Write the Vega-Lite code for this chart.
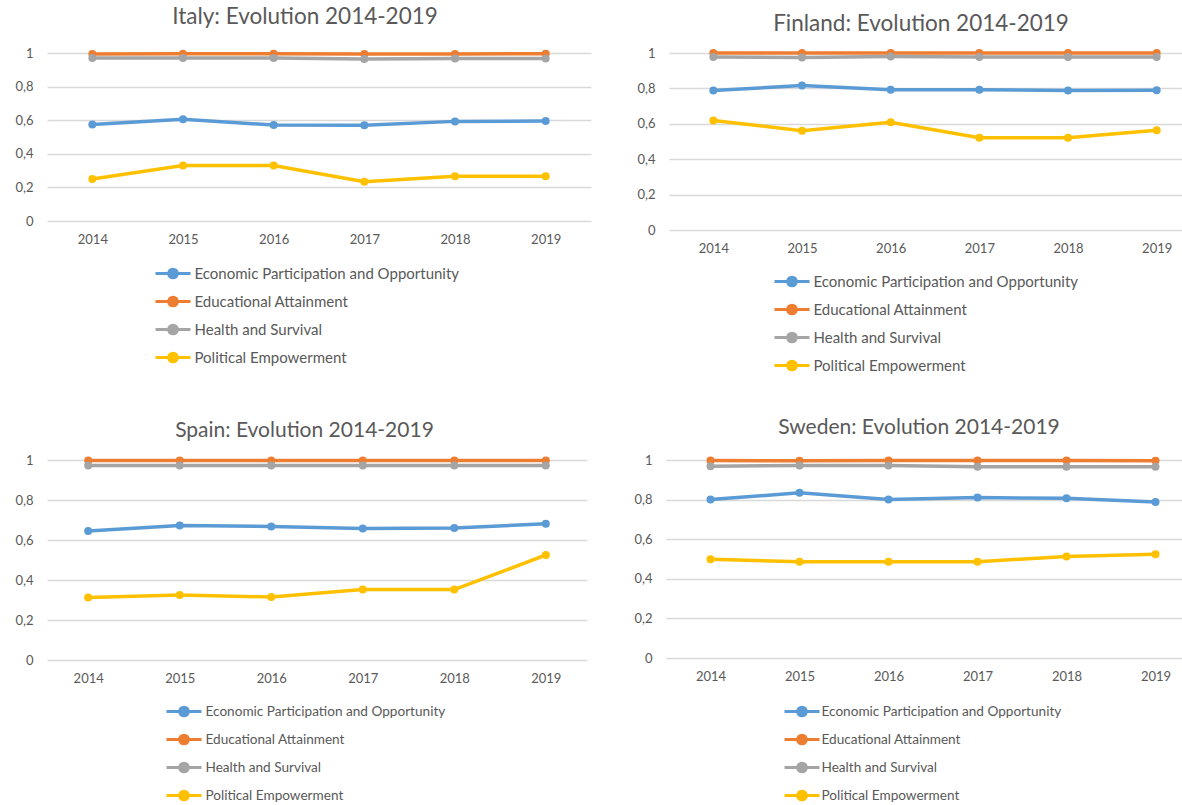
{
  "$schema": "https://vega.github.io/schema/vega-lite/v6.json",
  "padding": {"left": 14, "top": 6, "right": 0, "bottom": 0},
  "background": "white",
  "datasets": {
    "d": [
      {"country": "Italy", "indicator": "Economic Participation and Opportunity", "year": "2014", "value": 0.574},
      {"country": "Italy", "indicator": "Economic Participation and Opportunity", "year": "2015", "value": 0.605},
      {"country": "Italy", "indicator": "Economic Participation and Opportunity", "year": "2016", "value": 0.571},
      {"country": "Italy", "indicator": "Economic Participation and Opportunity", "year": "2017", "value": 0.570},
      {"country": "Italy", "indicator": "Economic Participation and Opportunity", "year": "2018", "value": 0.593},
      {"country": "Italy", "indicator": "Economic Participation and Opportunity", "year": "2019", "value": 0.595},
      {"country": "Italy", "indicator": "Educational Attainment", "year": "2014", "value": 0.994},
      {"country": "Italy", "indicator": "Educational Attainment", "year": "2015", "value": 0.995},
      {"country": "Italy", "indicator": "Educational Attainment", "year": "2016", "value": 0.995},
      {"country": "Italy", "indicator": "Educational Attainment", "year": "2017", "value": 0.994},
      {"country": "Italy", "indicator": "Educational Attainment", "year": "2018", "value": 0.994},
      {"country": "Italy", "indicator": "Educational Attainment", "year": "2019", "value": 0.996},
      {"country": "Italy", "indicator": "Health and Survival", "year": "2014", "value": 0.970},
      {"country": "Italy", "indicator": "Health and Survival", "year": "2015", "value": 0.970},
      {"country": "Italy", "indicator": "Health and Survival", "year": "2016", "value": 0.970},
      {"country": "Italy", "indicator": "Health and Survival", "year": "2017", "value": 0.964},
      {"country": "Italy", "indicator": "Health and Survival", "year": "2018", "value": 0.967},
      {"country": "Italy", "indicator": "Health and Survival", "year": "2019", "value": 0.967},
      {"country": "Italy", "indicator": "Political Empowerment", "year": "2014", "value": 0.250},
      {"country": "Italy", "indicator": "Political Empowerment", "year": "2015", "value": 0.330},
      {"country": "Italy", "indicator": "Political Empowerment", "year": "2016", "value": 0.330},
      {"country": "Italy", "indicator": "Political Empowerment", "year": "2017", "value": 0.234},
      {"country": "Italy", "indicator": "Political Empowerment", "year": "2018", "value": 0.267},
      {"country": "Italy", "indicator": "Political Empowerment", "year": "2019", "value": 0.267},

      {"country": "Finland", "indicator": "Economic Participation and Opportunity", "year": "2014", "value": 0.788},
      {"country": "Finland", "indicator": "Economic Participation and Opportunity", "year": "2015", "value": 0.816},
      {"country": "Finland", "indicator": "Economic Participation and Opportunity", "year": "2016", "value": 0.793},
      {"country": "Finland", "indicator": "Economic Participation and Opportunity", "year": "2017", "value": 0.793},
      {"country": "Finland", "indicator": "Economic Participation and Opportunity", "year": "2018", "value": 0.788},
      {"country": "Finland", "indicator": "Economic Participation and Opportunity", "year": "2019", "value": 0.790},
      {"country": "Finland", "indicator": "Educational Attainment", "year": "2014", "value": 1.000},
      {"country": "Finland", "indicator": "Educational Attainment", "year": "2015", "value": 1.000},
      {"country": "Finland", "indicator": "Educational Attainment", "year": "2016", "value": 1.000},
      {"country": "Finland", "indicator": "Educational Attainment", "year": "2017", "value": 1.000},
      {"country": "Finland", "indicator": "Educational Attainment", "year": "2018", "value": 1.000},
      {"country": "Finland", "indicator": "Educational Attainment", "year": "2019", "value": 1.000},
      {"country": "Finland", "indicator": "Health and Survival", "year": "2014", "value": 0.978},
      {"country": "Finland", "indicator": "Health and Survival", "year": "2015", "value": 0.974},
      {"country": "Finland", "indicator": "Health and Survival", "year": "2016", "value": 0.980},
      {"country": "Finland", "indicator": "Health and Survival", "year": "2017", "value": 0.978},
      {"country": "Finland", "indicator": "Health and Survival", "year": "2018", "value": 0.978},
      {"country": "Finland", "indicator": "Health and Survival", "year": "2019", "value": 0.978},
      {"country": "Finland", "indicator": "Political Empowerment", "year": "2014", "value": 0.619},
      {"country": "Finland", "indicator": "Political Empowerment", "year": "2015", "value": 0.561},
      {"country": "Finland", "indicator": "Political Empowerment", "year": "2016", "value": 0.609},
      {"country": "Finland", "indicator": "Political Empowerment", "year": "2017", "value": 0.521},
      {"country": "Finland", "indicator": "Political Empowerment", "year": "2018", "value": 0.521},
      {"country": "Finland", "indicator": "Political Empowerment", "year": "2019", "value": 0.564},

      {"country": "Spain", "indicator": "Economic Participation and Opportunity", "year": "2014", "value": 0.645},
      {"country": "Spain", "indicator": "Economic Participation and Opportunity", "year": "2015", "value": 0.673},
      {"country": "Spain", "indicator": "Economic Participation and Opportunity", "year": "2016", "value": 0.668},
      {"country": "Spain", "indicator": "Economic Participation and Opportunity", "year": "2017", "value": 0.657},
      {"country": "Spain", "indicator": "Economic Participation and Opportunity", "year": "2018", "value": 0.660},
      {"country": "Spain", "indicator": "Economic Participation and Opportunity", "year": "2019", "value": 0.681},
      {"country": "Spain", "indicator": "Educational Attainment", "year": "2014", "value": 0.998},
      {"country": "Spain", "indicator": "Educational Attainment", "year": "2015", "value": 0.998},
      {"country": "Spain", "indicator": "Educational Attainment", "year": "2016", "value": 0.998},
      {"country": "Spain", "indicator": "Educational Attainment", "year": "2017", "value": 0.998},
      {"country": "Spain", "indicator": "Educational Attainment", "year": "2018", "value": 0.998},
      {"country": "Spain", "indicator": "Educational Attainment", "year": "2019", "value": 0.998},
      {"country": "Spain", "indicator": "Health and Survival", "year": "2014", "value": 0.972},
      {"country": "Spain", "indicator": "Health and Survival", "year": "2015", "value": 0.972},
      {"country": "Spain", "indicator": "Health and Survival", "year": "2016", "value": 0.972},
      {"country": "Spain", "indicator": "Health and Survival", "year": "2017", "value": 0.972},
      {"country": "Spain", "indicator": "Health and Survival", "year": "2018", "value": 0.972},
      {"country": "Spain", "indicator": "Health and Survival", "year": "2019", "value": 0.972},
      {"country": "Spain", "indicator": "Political Empowerment", "year": "2014", "value": 0.313},
      {"country": "Spain", "indicator": "Political Empowerment", "year": "2015", "value": 0.325},
      {"country": "Spain", "indicator": "Political Empowerment", "year": "2016", "value": 0.315},
      {"country": "Spain", "indicator": "Political Empowerment", "year": "2017", "value": 0.352},
      {"country": "Spain", "indicator": "Political Empowerment", "year": "2018", "value": 0.352},
      {"country": "Spain", "indicator": "Political Empowerment", "year": "2019", "value": 0.525},

      {"country": "Sweden", "indicator": "Economic Participation and Opportunity", "year": "2014", "value": 0.800},
      {"country": "Sweden", "indicator": "Economic Participation and Opportunity", "year": "2015", "value": 0.834},
      {"country": "Sweden", "indicator": "Economic Participation and Opportunity", "year": "2016", "value": 0.800},
      {"country": "Sweden", "indicator": "Economic Participation and Opportunity", "year": "2017", "value": 0.810},
      {"country": "Sweden", "indicator": "Economic Participation and Opportunity", "year": "2018", "value": 0.807},
      {"country": "Sweden", "indicator": "Economic Participation and Opportunity", "year": "2019", "value": 0.788},
      {"country": "Sweden", "indicator": "Educational Attainment", "year": "2014", "value": 0.998},
      {"country": "Sweden", "indicator": "Educational Attainment", "year": "2015", "value": 0.996},
      {"country": "Sweden", "indicator": "Educational Attainment", "year": "2016", "value": 0.998},
      {"country": "Sweden", "indicator": "Educational Attainment", "year": "2017", "value": 0.997},
      {"country": "Sweden", "indicator": "Educational Attainment", "year": "2018", "value": 0.997},
      {"country": "Sweden", "indicator": "Educational Attainment", "year": "2019", "value": 0.996},
      {"country": "Sweden", "indicator": "Health and Survival", "year": "2014", "value": 0.969},
      {"country": "Sweden", "indicator": "Health and Survival", "year": "2015", "value": 0.972},
      {"country": "Sweden", "indicator": "Health and Survival", "year": "2016", "value": 0.972},
      {"country": "Sweden", "indicator": "Health and Survival", "year": "2017", "value": 0.966},
      {"country": "Sweden", "indicator": "Health and Survival", "year": "2018", "value": 0.966},
      {"country": "Sweden", "indicator": "Health and Survival", "year": "2019", "value": 0.966},
      {"country": "Sweden", "indicator": "Political Empowerment", "year": "2014", "value": 0.499},
      {"country": "Sweden", "indicator": "Political Empowerment", "year": "2015", "value": 0.486},
      {"country": "Sweden", "indicator": "Political Empowerment", "year": "2016", "value": 0.486},
      {"country": "Sweden", "indicator": "Political Empowerment", "year": "2017", "value": 0.486},
      {"country": "Sweden", "indicator": "Political Empowerment", "year": "2018", "value": 0.513},
      {"country": "Sweden", "indicator": "Political Empowerment", "year": "2019", "value": 0.524}
    ]
  },
  "data": {"name": "d"},
  "resolve": {"legend": {"color": "independent"}},
  "spacing": 41,
  "vconcat": [
    {
      "spacing": 45,
      "resolve": {"legend": {"color": "independent"}},
      "hconcat": [
        {
          "title": {"text": "Italy: Evolution 2014-2019", "dx": -14, "dy": 3, "offset": 21},
          "width": 544, "height": 168,
          "transform": [{"filter": "datum.country === 'Italy'"}],
          "encoding": {
            "x": {"field": "year", "type": "ordinal", "scale": {"type": "point", "padding": 0.5}},
            "y": {"field": "value", "type": "quantitative", "scale": {"domain": [0, 1]}},
            "color": {"field": "indicator", "type": "nominal", "legend": {"legendX": 110.5, "legendY": 205, "labelFontSize": 15}}
          },
          "layer": [
            {"mark": {"type": "line", "strokeWidth": 3.5}},
            {"mark": {"type": "point", "filled": true, "size": 64, "opacity": 1}}
          ]
        },
        {
          "title": {"text": "Finland: Evolution 2014-2019", "dx": -14, "offset": 11},
          "width": 532, "height": 177,
          "transform": [{"filter": "datum.country === 'Finland'"}],
          "encoding": {
            "x": {"field": "year", "type": "ordinal", "scale": {"type": "point", "padding": 0.5}},
            "y": {"field": "value", "type": "quantitative", "scale": {"domain": [0, 1]}},
            "color": {"field": "indicator", "type": "nominal", "legend": {"legendX": 107.5, "legendY": 213, "labelFontSize": 15}}
          },
          "layer": [
            {"mark": {"type": "line", "strokeWidth": 3.5}},
            {"mark": {"type": "point", "filled": true, "size": 64, "opacity": 1}}
          ]
        }
      ]
    },
    {
      "spacing": 46,
      "resolve": {"legend": {"color": "independent"}},
      "hconcat": [
        {
          "title": {"text": "Spain: Evolution 2014-2019", "dx": -12.5, "dy": 2, "offset": 14, "fontSize": 21},
          "width": 540, "height": 200,
          "transform": [{"filter": "datum.country === 'Spain'"}],
          "encoding": {
            "x": {"field": "year", "type": "ordinal", "scale": {"type": "point", "padding": 0.45}},
            "y": {"field": "value", "type": "quantitative", "scale": {"domain": [0, 1]}},
            "color": {"field": "indicator", "type": "nominal", "legend": {"legendX": 121.5, "legendY": 236, "labelFontSize": 13.6}}
          },
          "layer": [
            {"mark": {"type": "line", "strokeWidth": 3.5}},
            {"mark": {"type": "point", "filled": true, "size": 64, "opacity": 1}}
          ]
        },
        {
          "title": {"text": "Sweden: Evolution 2014-2019", "dx": -14, "dy": 2, "offset": 17, "fontSize": 21},
          "width": 534, "height": 198,
          "transform": [{"filter": "datum.country === 'Sweden'"}],
          "encoding": {
            "x": {"field": "year", "type": "ordinal", "scale": {"type": "point", "padding": 0.5}},
            "y": {"field": "value", "type": "quantitative", "scale": {"domain": [0, 1]}},
            "color": {"field": "indicator", "type": "nominal", "legend": {"legendX": 120.5, "legendY": 236, "labelFontSize": 13.6, "labelOffset": 4}}
          },
          "layer": [
            {"mark": {"type": "line", "strokeWidth": 3.5}},
            {"mark": {"type": "point", "filled": true, "size": 64, "opacity": 1}}
          ]
        }
      ]
    }
  ],
  "config": {
    "font": "Lato",
    "view": {"stroke": null},
    "range": {"category": ["#5B9BD5", "#ED7D31", "#A5A5A5", "#FFC000"]},
    "axis": {"labelColor": "#595959", "labelFontSize": 13, "ticks": false, "domain": false, "title": null},
    "axisY": {"gridColor": "#D9D9D9", "gridWidth": 1.3, "labelPadding": 14, "values": [0, 0.2, 0.4, 0.6, 0.8, 1], "labelExpr": "replace(format(datum.value, '~g'), '.', ',')"},
    "axisX": {"grid": false, "labelPadding": 12, "labelAngle": 0},
    "title": {"fontSize": 22.5, "color": "#595959", "fontWeight": "normal", "anchor": "middle", "frame": "group", "offset": 18},
    "legend": {
      "orient": "none",
      "direction": "vertical",
      "title": null,
      "labelFontSize": 14,
      "labelColor": "#595959",
      "labelOffset": 6,
      "labelLimit": 0,
      "symbolType": "M-1.25,0H1.25M-0.31,0a0.31,0.31 0 1,0 0.62,0a0.31,0.31 0 1,0 -0.62,0Z",
      "symbolSize": 784,
      "symbolStrokeWidth": 3,
      "rowPadding": 2,
      "padding": 0,
      "encode": {"symbols": {"update": {"fill": {"scale": "color", "field": "value"}, "fillOpacity": {"value": 1}}}}
    }
  }
}
